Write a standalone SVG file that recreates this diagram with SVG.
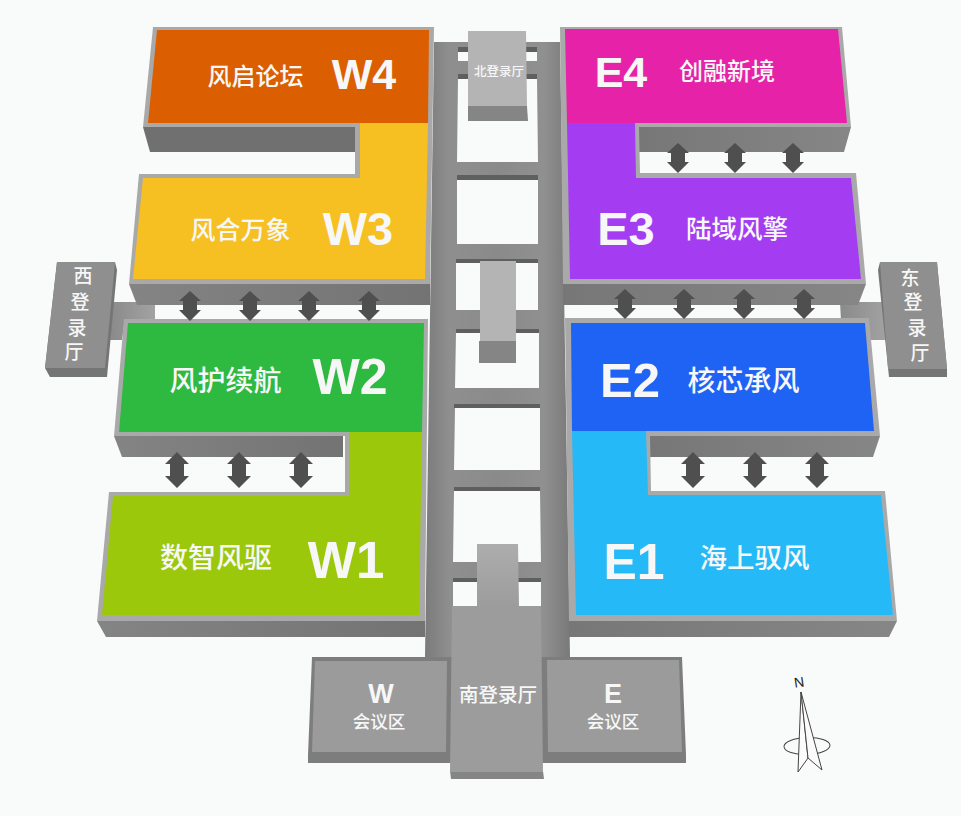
<svg xmlns="http://www.w3.org/2000/svg" width="961" height="816" viewBox="0 0 961 816">
<style>
.cjk{font-family:"Noto Sans CJK SC","Liberation Sans",sans-serif;font-weight:500;fill:#f7f7f7;text-anchor:middle}
.lat{font-family:"Liberation Sans",Arial,sans-serif;font-weight:700;fill:#f7f7f7;text-anchor:middle}
.bd{fill:#a9a9a9}
.side{fill:url(#sideG)}
.win{fill:#f9fafa}
.strip{fill:#5f5f5f}
.top{fill:#b4b4b4}
.dk{fill:#858585}
.hall{fill:#8f8f8f}
.conf{fill:#9b9b9b}
.confb{fill:#7d7d7d}
.cp{fill:#fbfbfb;stroke:#444;stroke-width:1}
</style>
<defs>
<linearGradient id="railG" gradientUnits="userSpaceOnUse" x1="425" y1="0" x2="570" y2="0">
<stop offset="0" stop-color="#7b7b7b"/><stop offset=".17" stop-color="#8f8f8f"/><stop offset=".5" stop-color="#8a8a8a"/><stop offset=".82" stop-color="#909090"/><stop offset="1" stop-color="#797979"/>
</linearGradient>
<linearGradient id="sideG" x1="0" y1="0" x2="1" y2="0">
<stop offset="0" stop-color="#848484"/><stop offset="1" stop-color="#737373"/>
</linearGradient>
<linearGradient id="sideE" x1="0" y1="0" x2="1" y2="0">
<stop offset="0" stop-color="#777"/><stop offset="1" stop-color="#868686"/>
</linearGradient>
<linearGradient id="spurG" x1="0" y1="0" x2="1" y2="0">
<stop offset="0" stop-color="#8a8a8a"/><stop offset="1" stop-color="#a2a2a2"/>
</linearGradient>
<linearGradient id="southG" x1="0" y1="0" x2="0" y2="1">
<stop offset="0" stop-color="#adadad"/><stop offset="1" stop-color="#9c9c9c"/>
</linearGradient>
<path id="arrS" d="M0 -15L11 -5H7V4H11L0 15L-11 4H-7V-5H-11Z" fill="#4f4f4f"/>
<path id="arrL" d="M0 -18L12 -6H7V6H12L0 18L-12 6H-7V-6H-12Z" fill="#4f4f4f"/>
</defs>
<rect width="961" height="816" fill="#f9fafa"/>

<g id="walkways">
<polygon points="434,42 560,42 570,657 425,657" fill="url(#railG)"/>
<polygon class="win" points="458,52 537,52 537,61 458,61"/><rect class="strip" x="458" y="47" width="79" height="5"/>
<polygon class="win" points="458,79 537,79 538,162 457,162"/><rect class="strip" x="458" y="74" width="79" height="5"/>
<polygon class="win" points="457,180 538,180 538,244 457,244"/><rect class="strip" x="457" y="175" width="81" height="5"/>
<polygon class="win" points="456,263 538,263 538,310 456,310"/><rect class="strip" x="456" y="259" width="82" height="4"/>
<polygon class="win" points="456,333 539,333 539,388 455,388"/><rect class="strip" x="456" y="329" width="83" height="4"/>
<polygon class="win" points="455,408 540,408 540,470 454,470"/><rect class="strip" x="454" y="404" width="86" height="4"/>
<polygon class="win" points="454,491 540,491 541,562 453,562"/><rect class="strip" x="454" y="487" width="86" height="4"/>
<polygon class="win" points="453,582 541,582 541,606 453,606"/><rect class="strip" x="453" y="578" width="88" height="4"/>
<polygon points="113,302 155,302 155,320 125,320 122,340 110,340" fill="url(#spurG)"/>
<polygon points="840,302 883,302 886,340 870,340 868,320 841,320" fill="url(#spurG)"/>
</g>

<g id="hall-north">
<polygon class="top" points="468,31 526,31 527,107 468,107"/>
<polygon class="dk" points="468,106 527,106 528,121 468,121"/>
<text class="cjk" x="499" y="76" font-size="12.5">北登录厅</text>
</g>
<g id="hall-center">
<polygon class="top" points="480,261 516,261 516,342 480,342"/>
<rect class="dk" x="479" y="341" width="37" height="22"/>
</g>
<g id="hall-west">
<polygon fill="#757575" points="57,262 115,262 117,270 107,377 50,377 45,368"/>
<polygon class="hall" points="57,262 115,262 105,368 45,368"/>
<text class="cjk" x="83" y="283" font-size="19">西</text>
<text class="cjk" x="80" y="309" font-size="19">登</text>
<text class="cjk" x="77" y="335" font-size="19">录</text>
<text class="cjk" x="74" y="359" font-size="19">厅</text>
</g>
<g id="hall-east">
<polygon fill="#757575" points="880,262 937,262 947,369 947,377 889,377 878,270"/>
<polygon class="hall" points="880,262 937,262 947,369 888,369"/>
<text class="cjk" x="910" y="285" font-size="19">东</text>
<text class="cjk" x="913" y="309" font-size="19">登</text>
<text class="cjk" x="917" y="335" font-size="19">录</text>
<text class="cjk" x="920" y="360" font-size="19">厅</text>
</g>

<g id="zone-W4-W3">
<polygon class="side" points="129,284 430,284 430,305 137,305"/>
<polygon fill="#707070" points="143,127 355,127 355,152 150,152"/>
<polygon class="bd" points="153,27 434,27 430,284 129,284 139,174 355,174 355,127 143,127"/>
<polygon fill="#db5e00" points="157,30 429,30 428,123 148,123"/>
<polygon fill="#f6bf22" points="360,123 428,123 425,279 133,279 143,178 360,178"/>
<text class="cjk" x="255.500" y="85" font-size="24">风启论坛</text><text class="lat" x="364" y="89" font-size="43">W4</text>
<text class="cjk" x="240.500" y="239" font-size="25">风合万象</text><text class="lat" x="358" y="245" font-size="47">W3</text>
</g>
<g id="zone-W2-W1">
<polygon class="side" points="97,621 425,621 425,637 106,637"/>
<polygon class="side" points="114,436 343,436 343,457 122,457"/>
<polygon class="bd" points="124,319 428,319 425,621 97,621 109,492 345,492 345,436 114,436"/>
<polygon fill="#2eb940" points="128,323 424,323 422,432 119,432"/>
<polygon fill="#9bc80a" points="349,432 422,432 419,615 102,615 113,496 349,496"/>
<text class="cjk" x="225.500" y="391" font-size="28">风护续航</text><text class="lat" x="350" y="394" font-size="50">W2</text>
<text class="cjk" x="216" y="568" font-size="28">数智风驱</text><text class="lat" x="346" y="578" font-size="51">W1</text>
</g>
<g id="zone-E4-E3">
<polygon fill="url(#sideE)" points="563,284 866,284 858,305 563,305"/>
<polygon fill="url(#sideE)" points="639,127 851,127 844,152 639,152"/>
<polygon class="bd" points="560,27 842,27 851,127 639,127 640,173 856,173 866,284 563,284"/>
<polygon fill="#e623a8" points="565,29 838,29 847,123 567,123"/>
<polygon fill="#a43df2" points="567,123 635,123 636,178 851,178 861,279 570,279"/>
<text class="lat" x="621" y="87" font-size="43">E4</text><text class="cjk" x="727" y="80" font-size="24">创融新境</text>
<text class="lat" x="626" y="245" font-size="47">E3</text><text class="cjk" x="737" y="238" font-size="25.500">陆域风擎</text>
</g>
<g id="zone-E2-E1">
<polygon fill="url(#sideE)" points="569,621 897,621 889,637 569,637"/>
<polygon fill="url(#sideE)" points="650,436 880,436 873,457 650,457"/>
<polygon class="bd" points="565,318 869,318 880,436 650,436 651,491 885,491 897,621 569,621"/>
<polygon fill="#1f63f5" points="571,323 865,323 874,431 572,431"/>
<polygon fill="#25b9f7" points="572,431 646,431 648,495 881,495 893,615 576,615"/>
<text class="lat" x="630" y="397" font-size="49">E2</text><text class="cjk" x="743.500" y="391" font-size="28">核芯承风</text>
<text class="lat" x="634" y="579" font-size="50">E1</text><text class="cjk" x="754.500" y="568" font-size="27.500">海上驭风</text>
</g>

<g id="conf-W">
<polygon class="confb" points="312,657 452,657 452,763 308,763 308,755"/>
<polygon class="conf" points="315,661 447,661 446,752 312,752"/>
<text class="lat" x="381" y="702.500" font-size="27">W</text>
<text class="cjk" x="379" y="727.500" font-size="17.500">会议区</text>
</g>
<g id="conf-E">
<polygon class="confb" points="541,657 682,657 686,755 686,763 541,763"/>
<polygon class="conf" points="547,660 679,660 682,752 548,752"/>
<text class="lat" x="613" y="702.500" font-size="27">E</text>
<text class="cjk" x="613" y="727.500" font-size="17.500">会议区</text>
</g>
<g id="hall-south">
<polygon fill="url(#southG)" points="477,544 518,544 519,607 477,607"/>
<polygon class="dk" points="450,771 543,771 544,779 451,779"/>
<polygon fill="#9c9c9c" points="452,606 541,606 543,772 450,772"/>
<text class="cjk" x="498" y="702" font-size="19.500">南登录厅</text>
</g>

<g id="connectors">
<use href="#arrS" x="190" y="306"/><use href="#arrS" x="250" y="306"/><use href="#arrS" x="309" y="306"/><use href="#arrS" x="369" y="306"/>
<use href="#arrS" x="625" y="304"/><use href="#arrS" x="684" y="304"/><use href="#arrS" x="744" y="304"/><use href="#arrS" x="804" y="304"/>
<use href="#arrS" x="678" y="158"/><use href="#arrS" x="735" y="158"/><use href="#arrS" x="793" y="158"/>
<use href="#arrL" x="177" y="470"/><use href="#arrL" x="239" y="470"/><use href="#arrL" x="301" y="470"/>
<use href="#arrL" x="693" y="470"/><use href="#arrL" x="755" y="470"/><use href="#arrL" x="817" y="470"/>
</g>

<g id="compass">
<ellipse cx="807" cy="746" rx="23" ry="8.500" transform="rotate(-2 807 746)" fill="none" stroke="#444" stroke-width="1"/>
<polygon class="cp" points="801,692 798,772 808,758"/>
<polygon class="cp" points="801,692 822,770 808,758"/>
<text x="799" y="687" font-family="Liberation Sans,Arial,sans-serif" font-size="14" fill="#222" text-anchor="middle" transform="rotate(-8 799 682)">N</text>
</g>
</svg>
